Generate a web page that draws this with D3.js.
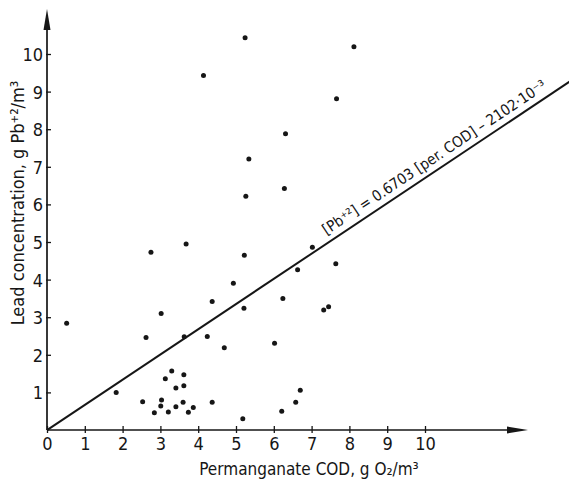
<!DOCTYPE html>
<html>
<head>
<meta charset="utf-8">
<script src="https://cdn.jsdelivr.net/npm/d3@7"></script>
<style>
  html, body { margin: 0; padding: 0; background: #fff; }
  svg { display: block; }
  text { font-family: "DejaVu Sans Condensed", "Liberation Sans Narrow", "DejaVu Sans", sans-serif; fill: #161616; }
</style>
</head>
<body>
<script>
// ---- data ----
const cod = [0.52, 1.83, 2.53, 2.62, 2.75, 2.84, 3.01, 3.03, 3.02, 3.13, 3.21, 3.30, 3.41, 3.41, 3.60, 3.62,
  3.62, 3.63, 3.68, 3.74, 3.87, 4.14, 4.24, 4.37, 4.37, 4.69, 4.93, 5.18, 5.21, 5.22, 5.24, 5.26, 5.34,
  6.02, 6.21, 6.24, 6.28, 6.31, 6.58, 6.63, 6.70, 7.02, 7.32, 7.45, 7.64, 7.66, 8.12];
const lead = [2.84, 1.00, 0.75, 2.46, 4.73, 0.46, 0.64, 0.80, 3.10, 1.36, 0.48, 1.57, 1.12, 0.62, 0.74, 1.18,
  1.47, 2.48, 4.95, 0.47, 0.60, 9.43, 2.49, 3.42, 0.74, 2.19, 3.90, 0.30, 3.24, 4.65, 10.43, 6.22, 7.21,
  2.31, 0.50, 3.50, 6.42, 7.88, 0.74, 4.26, 1.06, 4.86, 3.19, 3.28, 4.42, 8.81, 10.19];
const xTicks = [0, 1, 2, 3, 4, 5, 6, 7, 8, 9, 10];
const yTicks = [1, 2, 3, 4, 5, 6, 7, 8, 9, 10];
const slope = 0.6703;
const intercept = -2.102e-3;
const xTitle = "Permanganate COD,  g O\u2082/m\u00B3";
const yTitle = "Lead concentration,  g Pb\u207A\u00B2/m\u00B3";
const eqText = "[Pb\u207A\u00B2] = 0.6703 [per. COD] \u2013 2102\u00B710\u207B\u00B3";

// ---- layout ----
const W = 569, H = 482;
const x = d3.scaleLinear().domain([0, 10]).range([47, 425]);
const y = d3.scaleLinear().domain([0, 10]).range([430, 54]);

const svg = d3.select("body").append("svg").attr("width", W).attr("height", H);
svg.append("rect").attr("width", W).attr("height", H).attr("fill", "#fff");

const ink = "#161616";

// axes lines
const x0 = x(0), y0 = y(0);
svg.append("line").attr("x1", x0).attr("y1", y0).attr("x2", 512).attr("y2", y0)
  .attr("stroke", ink).attr("stroke-width", 1.7);
svg.append("path").attr("d", `M507,${y0 - 3.5} L528,${y0} L507,${y0 + 3.5} Z`).attr("fill", ink);
svg.append("line").attr("x1", x0).attr("y1", y0).attr("x2", x0).attr("y2", 26)
  .attr("stroke", ink).attr("stroke-width", 1.7);
svg.append("path").attr("d", `M${x0 - 3.5},30 L${x0},9 L${x0 + 3.5},30 Z`).attr("fill", ink);

// x axis ticks + labels
const xAxis = d3.axisBottom(x).tickValues(xTicks).tickSize(4).tickPadding(6).tickFormat(d3.format("d"));
const gx = svg.append("g").attr("transform", `translate(0,${y0})`).call(xAxis);
gx.select(".domain").remove();
gx.selectAll(".tick line").attr("y1", -4).attr("y2", 3).attr("stroke", ink).attr("stroke-width", 1.3);
gx.selectAll(".tick text").attr("font-size", 18).attr("fill", ink).attr("dy", "0.62em").attr("y", 9);

// y axis ticks + labels
const yAxis = d3.axisLeft(y).tickValues(yTicks).tickSize(-4).tickPadding(9).tickFormat(d3.format("d"));
const gy = svg.append("g").attr("transform", `translate(${x0},0)`).call(yAxis);
gy.select(".domain").remove();
gy.selectAll(".tick line").attr("x1", -1).attr("x2", 4).attr("stroke", ink).attr("stroke-width", 1.3);
gy.selectAll(".tick text").attr("font-size", 18).attr("fill", ink).attr("x", -4).attr("dy", "0.36em");

// axis titles
svg.append("text").attr("x", 309).attr("y", 475).attr("text-anchor", "middle")
  .attr("font-size", 17).text(xTitle);
svg.append("text").attr("transform", "translate(24,203) rotate(-90)").attr("text-anchor", "middle")
  .attr("font-size", 18).text(yTitle);

// regression line
const xEnd = x.invert(W + 2);
svg.append("line")
  .attr("x1", x(0)).attr("y1", y(slope * 0 + intercept))
  .attr("x2", x(xEnd)).attr("y2", y(slope * xEnd + intercept))
  .attr("stroke", ink).attr("stroke-width", 2);

// equation label along the line
const ang = Math.atan2(y(slope * 10) - y(0), x(10) - x(0)) * 180 / Math.PI;
const ex = 7.5;
svg.append("text")
  .attr("transform", `translate(${x(ex)},${y(slope * ex + intercept)}) rotate(${ang}) translate(0,-7)`)
  .attr("font-size", 15).text(eqText);

// points
svg.append("g").selectAll("circle").data(cod.map((c, i) => [c, lead[i]])).join("circle")
  .attr("cx", d => x(d[0])).attr("cy", d => y(d[1])).attr("r", 2.5).attr("fill", ink);
</script>
</body>
</html>
